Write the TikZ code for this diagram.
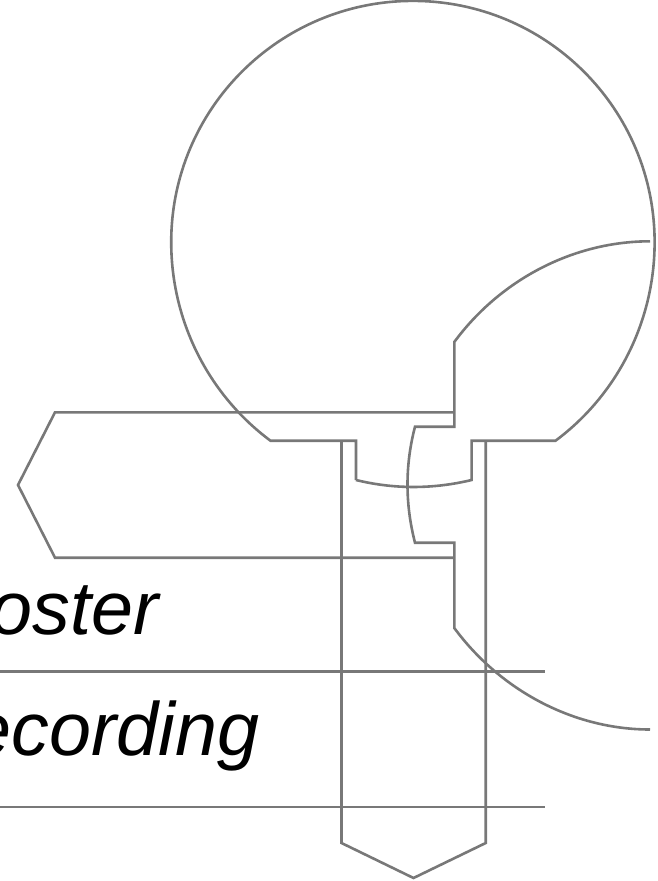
\documentclass[tikz,border=0pt]{standalone}
\usepackage{fontspec}
\setmainfont{Liberation Sans}
\definecolor{linegray}{HTML}{787878}
\tikzset{
  part/.style={draw=linegray,line width=2.6pt,line join=miter},
  label/.style={font=\fontsize{75.5}{75.5}\selectfont\itshape,text=black,inner sep=0pt,anchor=base east}
}
\begin{document}
\begin{tikzpicture}[x=1pt,y=-1pt]
\useasboundingbox (0,0) rectangle (657,881);
\clip (0,0) rectangle (657,881);
\node[label] (poster) at (159,634) {Poster};
\node[label] (recording) at (259.5,755) {Recording};
% lines under the labels
\draw[part] (0,671.7) -- (545,671.7);
\draw[part] (0,807) -- (545,807);
% head outline
\draw[part] (356,480) -- (356,440.7) -- (270.5,440.7)
  arc[start angle=233.8,end angle=180,x radius=242.5pt,y radius=246pt]
  arc[start angle=180,end angle=0,x radius=241.7pt,y radius=241.3pt]
  arc[start angle=0,end angle=-53.8,x radius=242pt,y radius=246pt]
  -- (471.6,440.7) -- (471.6,480)
  .. controls (433,489.3) and (394,489.3) .. (356,480);
% left pointing pentagon
\draw[part] (454.3,412.3) -- (55,412.3) -- (18,485) -- (55,557.7) -- (454.3,557.7);
% vertical pentagon
\draw[part] (341.5,440.7) -- (341.5,843) -- (413.5,878) -- (485.7,843) -- (485.7,440.7);
% inner profile
\draw[part] (650,241.3) .. controls (573,241.3) and (500,280) .. (454.3,342)
  -- (454.3,426.7) -- (415,426.7)
  .. controls (405,465) and (405,504) .. (415,542.7)
  -- (454.3,542.7) -- (454.3,628)
  .. controls (500,690) and (573,729.5) .. (650,729.5);
\end{tikzpicture}
\end{document}
